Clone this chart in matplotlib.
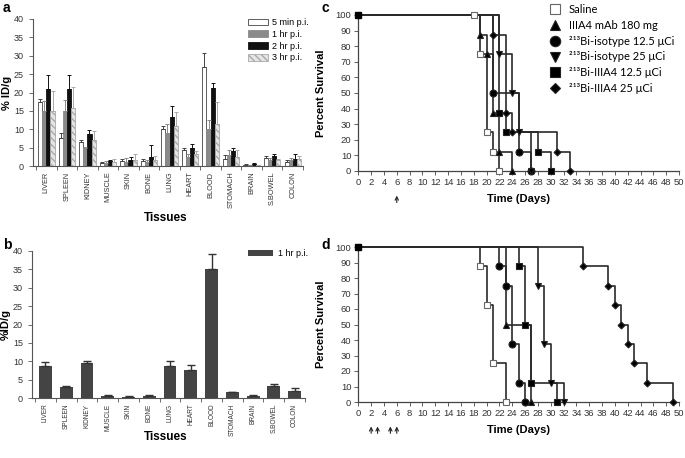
import matplotlib.pyplot as plt
from matplotlib.lines import Line2D
import numpy as np

plt.rcParams['font.family'] = ['Liberation Sans', 'DejaVu Sans']

# --- biodistribution data (panel a, b) ---
tissues = ['LIVER', 'SPLEEN', 'KIDNEY', 'MUSCLE', 'SKIN', 'BONE', 'LUNG',
           'HEART', 'BLOOD', 'STOMACH', 'BRAIN', 'S.BOWEL', 'COLON']
a_5min = [17.5, 7.5, 6.5, 0.8, 1.3, 1.3, 10.0, 4.3, 27.0, 2.0, 0.4, 2.3, 1.2]
a_5min_err = [0.7, 1.5, 0.5, 0.2, 0.7, 0.5, 0.8, 0.7, 3.7, 0.9, 0.1, 0.3, 0.3]
a_1hr = [15.0, 15.0, 5.0, 0.8, 1.2, 1.2, 9.0, 2.5, 10.0, 3.0, 0.2, 1.5, 1.5]
a_1hr_err = [2.7, 3.0, 0.2, 0.6, 1.0, 0.3, 2.5, 0.8, 2.6, 1.3, 0.1, 0.6, 0.8]
a_2hr = [21.0, 21.0, 8.8, 1.3, 1.5, 2.4, 13.4, 5.0, 21.3, 4.2, 0.6, 2.7, 2.0]
a_2hr_err = [3.8, 3.8, 1.0, 0.2, 1.0, 3.4, 2.8, 1.0, 1.3, 0.8, 0.2, 0.5, 1.4]
a_3hr = [15.0, 15.8, 7.0, 1.2, 1.6, 1.5, 10.9, 3.4, 11.3, 2.5, 0.3, 1.5, 1.8]
a_3hr_err = [5.5, 5.7, 2.5, 0.6, 1.6, 1.2, 3.7, 0.8, 6.2, 1.9, 0.1, 0.5, 0.9]

b_1hr = [8.8, 2.9, 9.5, 0.5, 0.4, 0.6, 8.7, 7.6, 35.0, 1.5, 0.6, 3.3, 2.0]
b_1hr_err = [1.0, 0.4, 0.7, 0.2, 0.2, 0.2, 1.5, 1.3, 4.2, 0.2, 0.2, 0.6, 0.6]

# --- survival data (panel c, single dose) ---
c_saline_t, c_saline_s = [0, 18, 19, 20, 21, 22], [100, 100, 75, 25, 12.5, 0]
c_mab_t, c_mab_s = [0, 19, 20, 21, 22, 24], [100, 87.5, 75, 37.5, 12.5, 0]
c_iso125_t, c_iso125_s = [0, 21, 25, 27], [100, 50, 12.5, 0]
c_iso25_t, c_iso25_s = [0, 22, 24, 25, 27], [100, 75, 50, 25, 0]
c_bi125_t, c_bi125_s = [0, 22, 23, 28, 30], [100, 37.5, 25, 12.5, 0]
c_bi25_t, c_bi25_s = [0, 21, 23, 24, 31, 33], [100, 87.5, 37.5, 25, 12.5, 0]

# --- survival data (panel d, four doses) ---
d_saline_t, d_saline_s = [0, 19, 20, 21, 23], [100, 87.5, 62.5, 25, 0]
d_mab_t, d_mab_s = [0, 23, 27], [100, 50, 0]
d_iso125_t, d_iso125_s = [0, 22, 23, 24, 25, 26], [100, 87.5, 75, 37.5, 12.5, 0]
d_iso25_t, d_iso25_s = [0, 28, 29, 30, 32], [100, 75, 37.5, 12.5, 0]
d_bi125_t, d_bi125_s = [0, 25, 26, 27, 31], [100, 87.5, 50, 12.5, 0]
d_bi25_t, d_bi25_s = [0, 35, 39, 40, 41, 42, 43, 45, 49], [100, 87.5, 75, 62.5, 50, 37.5, 25, 12.5, 0]

c_arrows = [6]
d_arrows = [2, 3, 5, 6]

legend_labels = ['Saline', 'IIIA4 mAb 180 mg', '²¹³Bi-isotype 12.5 μCi',
                 '²¹³Bi-isotype 25 μCi', '²¹³Bi-IIIA4 12.5 μCi', '²¹³Bi-IIIA4 25 μCi']
# marker, face, size
styles = [('s', 'white', 5), ('^', 'black', 5), ('o', 'black', 5),
          ('v', 'black', 5), ('s', 'black', 5), ('D', 'black', 3.5)]

W, H = 685, 458
fig = plt.figure(figsize=(6.85, 4.58), dpi=100)


def box(l, t, r, b):
    return [l / W, 1 - b / H, (r - l) / W, (b - t) / H]


def bar_axes(ax, ylabel, lab_size, xlab_y):
    x = np.arange(len(tissues))
    ax.set_xlim(-0.65, len(tissues) - 0.5)
    ax.set_ylim(0, 40)
    ax.set_yticks(range(0, 41, 5))
    ax.set_xticks(x)
    ax.set_xticklabels(tissues, rotation=90, fontsize=lab_size, color='#333')
    ax.set_xticks(np.arange(-0.5, len(tissues), 1), minor=True)
    ax.tick_params(axis='x', which='major', length=0, pad=4)
    ax.tick_params(axis='x', which='minor', length=3, width=0.6, color='#555')
    ax.tick_params(axis='y', length=3, width=0.6, labelsize=6.5, labelcolor='#333', color='#555')
    for s in ['top', 'right']:
        ax.spines[s].set_visible(False)
    for s in ['left', 'bottom']:
        ax.spines[s].set_color('#555')
        ax.spines[s].set_linewidth(0.8)
    ax.set_ylabel(ylabel, fontsize=8, fontweight='bold', va='center')
    ax.yaxis.set_label_coords(-0.095, 0.5)
    ax.set_xlabel('Tissues', fontsize=8.5, fontweight='bold', va='center')
    ax.xaxis.set_label_coords(0.49, xlab_y)


# ---------- panel a ----------
ax_a = fig.add_axes(box(33, 19, 303, 166))
x = np.arange(len(tissues))
series_a = [(a_5min, a_5min_err, dict(color='white', edgecolor='#444'), '#444', '5 min p.i.'),
            (a_1hr, a_1hr_err, dict(color='#8a8a8a', edgecolor='#8a8a8a'), '#8a8a8a', '1 hr p.i.'),
            (a_2hr, a_2hr_err, dict(color='#111111', edgecolor='#111111'), '#111111', '2 hr p.i.'),
            (a_3hr, a_3hr_err, dict(color='#e6e6e6', edgecolor='#aaaaaa', hatch='\\\\\\\\\\'), '#aaaaaa', '3 hr p.i.')]
w = 0.2
for i, (vals, errs, kw, ec, lab) in enumerate(series_a):
    ax_a.bar(x + (i - 1.5) * w, vals, w, linewidth=0.6, label=lab,
             yerr=[np.zeros(len(errs)), errs], ecolor=ec,
             error_kw=dict(elinewidth=0.7, capsize=1.5, capthick=0.7), **kw)
bar_axes(ax_a, '% ID/g', 5.3, -(218 - 166) / 147)
ax_a.legend(loc='upper left', bbox_to_anchor=(240 / W, 1 - 10 / H),
            bbox_transform=fig.transFigure, frameon=False, fontsize=6.5,
            handlelength=2.2, handleheight=0.8, handletextpad=0.5, labelspacing=0.3)

# ---------- panel b ----------
ax_b = fig.add_axes(box(32, 251, 305, 398))
ax_b.bar(x, b_1hr, 0.62, color='#444444', label='1 hr p.i.',
         yerr=[np.zeros(len(b_1hr_err)), b_1hr_err], ecolor='#333',
         error_kw=dict(elinewidth=1.0, capsize=3, capthick=1.0))
bar_axes(ax_b, '%ID/g', 4.7, -(437 - 398) / 147)
ax_b.legend(loc='upper left', bbox_to_anchor=(240 / W, 1 - 241 / H),
            bbox_transform=fig.transFigure, frameon=False, fontsize=6.5,
            handlelength=2.8, handleheight=0.8, handletextpad=0.5)


# ---------- survival panels ----------
def surv_axes(ax, data, arrows):
    for (t, s), (m, fc, ms) in zip(data, styles):
        ax.step(t, s, where='post', color='#2a2a2a', lw=1.2, clip_on=False)
        ax.plot(t[1:], s[1:], ls='none', marker=m, mfc=fc, mec='#222' if fc == 'black' else '#666',
                ms=ms, mew=0.8, clip_on=False, zorder=3)
    ax.plot([0], [100], ls='none', marker='s', color='black', ms=5, clip_on=False, zorder=4)
    ax.set_xlim(0, 50)
    ax.set_ylim(0, 100)
    ax.set_xticks(range(0, 51, 2))
    ax.set_yticks(range(0, 101, 10))
    ax.tick_params(length=3, width=0.6, labelsize=6.8, labelcolor='#333', color='#444', pad=2)
    for s in ['top', 'right']:
        ax.spines[s].set_visible(False)
    for s in ['left', 'bottom']:
        ax.spines[s].set_color('#444')
        ax.spines[s].set_linewidth(0.9)
    ax.set_xlabel('Time (Days)', fontsize=8, fontweight='bold', labelpad=5)
    ax.set_ylabel('Percent Survival', fontsize=8, fontweight='bold')
    ax.yaxis.set_label_coords(-0.1, 0.5)
    for d in arrows:
        ax.annotate('', xy=(d, -0.14), xytext=(d, -0.22),
                    xycoords=('data', 'axes fraction'), textcoords=('data', 'axes fraction'),
                    arrowprops=dict(arrowstyle='->', lw=0.8, color='#222',
                                    mutation_scale=6), annotation_clip=False)


ax_c = fig.add_axes(box(358.3, 15, 679, 171))
surv_axes(ax_c, [(c_saline_t, c_saline_s), (c_mab_t, c_mab_s), (c_iso125_t, c_iso125_s),
                 (c_iso25_t, c_iso25_s), (c_bi125_t, c_bi125_s), (c_bi25_t, c_bi25_s)], c_arrows)

ax_d = fig.add_axes(box(358.3, 247, 679, 402))
surv_axes(ax_d, [(d_saline_t, d_saline_s), (d_mab_t, d_mab_s), (d_iso125_t, d_iso125_s),
                 (d_iso25_t, d_iso25_s), (d_bi125_t, d_bi125_s), (d_bi25_t, d_bi25_s)], d_arrows)

handles = [Line2D([], [], ls='none', marker=m, mfc=fc, mec='#222' if fc == 'black' else '#666',
                  ms=ms * 1.5, mew=0.8) for m, fc, ms in styles]
fig.legend(handles, legend_labels, loc='upper left', bbox_to_anchor=(541 / W, 1 + 4 / H),
           frameon=False, prop={'family': 'Lato', 'size': 8}, handlelength=1.2,
           handletextpad=0.6, labelspacing=0.44, borderpad=0.2)

# panel letters
for lab, px, py in [('a', 3, 8), ('b', 3, 245), ('c', 321, 8), ('d', 321, 245)]:
    fig.text(px / W, 1 - py / H, lab, fontsize=10, fontweight='bold', va='center', ha='left')

fig.savefig('out.png', dpi=100)
